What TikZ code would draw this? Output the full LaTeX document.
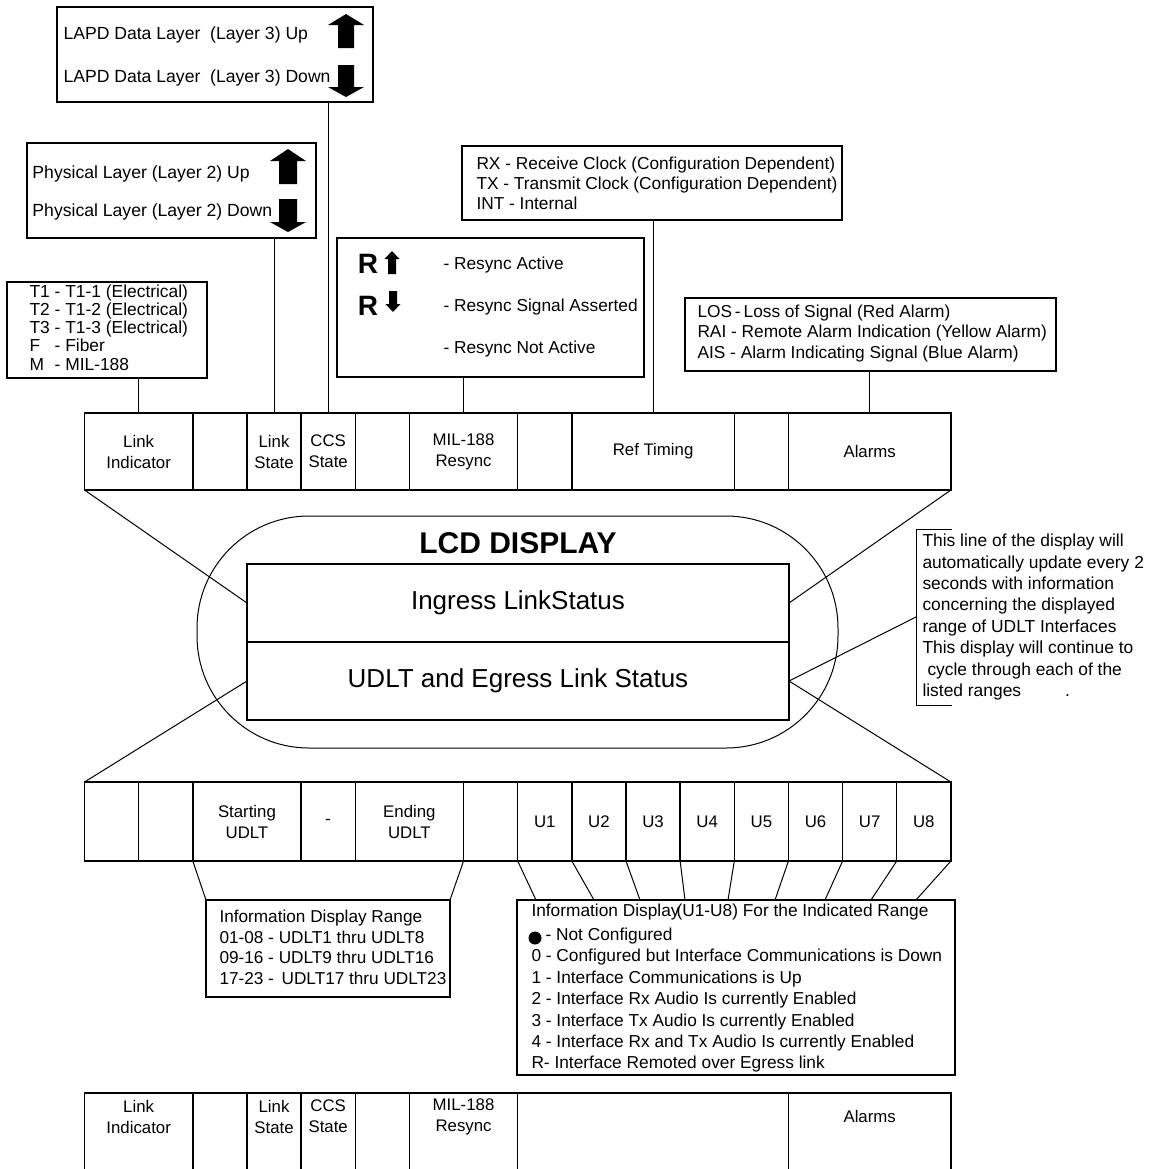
\documentclass[tikz,border=0pt]{standalone}
\usepackage{fontspec}
\setmainfont{Liberation Sans}

\begin{document}
\begin{tikzpicture}[x=0.5pt, y=-0.5pt, line width=0.5pt,
  box/.style={draw, line width=0.7pt, anchor=north west, inner sep=0pt, outer sep=0pt},
  txt/.style={anchor=west, inner sep=0pt, align=left, font=\fontsize{8.65}{10.3}\selectfont},
  cell/.style={draw, line width=0.7pt, anchor=north west, inner sep=0pt, outer sep=0pt,
    minimum width=#1*27.075pt, minimum height=38.5pt, align=center,
    font=\fontsize{8.4}{10.5}\selectfont},
  celltxt/.style={inner sep=0pt, align=center, font=\fontsize{8.4}{10.5}\selectfont},
  rlet/.style={inner sep=0pt, font=\bfseries\fontsize{14}{14}\selectfont}]

  % page 1151 x 1169 px, origin top left, y runs down
  \useasboundingbox (0,0) rectangle (1151,1169);
  \clip (0,0) rectangle (1151,1169);

  % --- legend boxes above the top row ---
  \node[box, minimum width=158pt, minimum height=47.5pt] (lapd) at (57,7) {};
  \node[txt, font=\fontsize{8.8}{21.5}\selectfont] (lapd-txt) at (63,56.5)
    {LAPD Data Layer\ \ (Layer 3) Up\\LAPD Data Layer\ \ (Layer 3) Down};

  \node[box, minimum width=144.5pt, minimum height=47.5pt] (phys) at (27,143) {};
  \node[txt, font=\fontsize{8.8}{19}\selectfont] (phys-txt) at (32,193)
    {Physical Layer (Layer 2) Up\\Physical Layer (Layer 2) Down};

  \node[box, minimum width=100pt, minimum height=48pt] (lnk) at (7,282) {};
  \node[txt, font=\fontsize{8.7}{9.1}\selectfont] (lnk-txt) at (29,330)
    {\begin{tabular}{@{}l@{\ }l@{}}
      T1 & - T1-1 (Electrical)\\
      T2 & - T1-2 (Electrical)\\
      T3 & - T1-3 (Electrical)\\
      F  & - Fiber\\
      M  & - MIL-188
    \end{tabular}};

  \node[box, minimum width=153.5pt, minimum height=69.5pt] (rsy) at (337,238) {};
  \node[rlet] (r-up) at (368,264) {R};
  \node[rlet] (r-dn) at (368,306) {R};
  \node[txt, font=\fontsize{8.65}{21}\selectfont] (rsy-txt) at (443,307)
    {- Resync Active\\- Resync Signal Asserted\\- Resync Not Active};

  \node[box, minimum width=190pt, minimum height=37pt] (clk) at (462,146) {};
  \node[txt, font=\fontsize{8.65}{10}\selectfont] (clk-txt) at (476,183)
    {RX - Receive Clock (Configuration Dependent)\\
     TX - Transmit Clock (Configuration Dependent)\\
     INT - Internal};

  \node[box, minimum width=185.5pt, minimum height=36.5pt] (alm) at (685,298) {};
  \node[txt] (alm-txt) at (697,333.5)
    {LOS\,-\,Loss of Signal (Red Alarm)\\
     RAI - Remote Alarm Indication (Yellow Alarm)\\
     AIS - Alarm Indicating Signal (Blue Alarm)};

  % block arrows: tip, head half width, shaft half width, head height, length
  \foreach \cx/\ty/\hw/\sw/\hh/\len in {346/14/18/8/11/34, 288/149/18/9/12/35, 392/251/7.5/4/8/23}
    \fill (\cx,\ty) -- ++(\hw,\hh) -- ++(\sw-\hw,0) -- ++(0,\len-\hh) -- ++(-2*\sw,0)
      -- ++(0,\hh-\len) -- ++(\sw-\hw,0) -- cycle;
  \foreach \cx/\by/\hw/\sw/\hh/\len in {346/97/18/8/10/32, 288/232/18/9/10/33, 393/312/7.5/4/8/21}
    \fill (\cx,\by) -- ++(\hw,-\hh) -- ++(\sw-\hw,0) -- ++(0,\hh-\len) -- ++(-2*\sw,0)
      -- ++(0,\len-\hh) -- ++(\sw-\hw,0) -- cycle;

  % --- top row: 16 units of 54.15 px from x=84.5 ---
  \foreach \s/\w/\n/\t in {0/2/li/{Link\\Indicator}, 2/1/e1/{}, 3/1/ls/{Link\\State},
      4/1/cs/{CCS\\State}, 5/1/e2/{}, 6/2/mr/{MIL-188\\Resync}, 8/1/e3/{},
      9/3/rt/{Ref Timing}, 12/1/e4/{}, 13/3/al/{Alarms}}
    \node[cell=\w] (top-\n) at ({84.5+\s*54.15},413) {\t};

  \draw (top-li.north) -- (top-li.north |- lnk.south);
  \draw (top-ls.north) -- (top-ls.north |- phys.south);
  \draw (top-cs.north) -- (top-cs.north |- lapd.south);
  \draw (top-mr.north) -- (top-mr.north |- rsy.south);
  \draw (top-rt.north) -- (top-rt.north |- clk.south);
  \draw (top-al.north) -- (top-al.north |- alm.south);

  % --- LCD display ---
  \node[draw, rounded corners=56pt, minimum width=320.5pt, minimum height=116pt,
    inner sep=0pt] (lcd) at (517.5,632) {};
  \node[font=\bfseries\fontsize{15}{15}\selectfont, inner sep=0pt] (lcd-title) at (518,543) {LCD DISPLAY};
  \node[box, minimum width=271pt, minimum height=39pt, font=\fontsize{13}{13}\selectfont]
    (ingress) at (247,564) {Ingress LinkStatus};
  \node[box, minimum width=271pt, minimum height=39pt, font=\fontsize{13}{13}\selectfont]
    (udlt) at (247,642) {UDLT and Egress Link Status};

  % side note, open bracket on its left
  \node[txt, anchor=north west, minimum height=87.5pt, inner xsep=3pt,
    font=\fontsize{8.7}{10.7}\selectfont] (note) at (916,529)
    {This line of the display will\\
     automatically update every 2\\
     seconds with information\\
     concerning the displayed\\
     range of UDLT Interfaces\\
     This display will continue to\\
     \hspace*{2.5pt}cycle through each of the\\
     listed ranges\hspace{22pt}.};
  \draw ([xshift=18pt]note.north west) -- (note.north west) -- (note.south west)
    -- ([xshift=18pt]note.south west);

  % --- middle row ---
  \foreach \s/\w/\n/\t in {0/1/a/{}, 1/1/b/{}, 2/2/st/{Starting\\UDLT}, 4/1/dash/{-},
      5/2/en/{Ending\\UDLT}, 7/1/c/{}}
    \node[cell=\w, minimum height=39.5pt] (mid-\n) at ({84.5+\s*54.15},782) {\t};
  \foreach \i in {1,...,8}
    \node[cell=1, minimum height=39.5pt] (mid-u\i) at ({84.5+(7+\i)*54.15},782) {U\i};

  \draw (top-li.south west) -- (ingress.west);
  \draw (top-al.south east) -- (ingress.east);
  \draw (udlt.west) -- (mid-a.north west);
  \draw (udlt.east) -- (mid-u8.north east);
  \draw (udlt.east) -- (note.west);

  % --- range and value legends ---
  \node[box, minimum width=122pt, minimum height=48.5pt] (range) at (206,900) {};
  \node[txt, font=\fontsize{8.6}{10.3}\selectfont] (range-txt) at (219,947.5)
    {Information Display Range\\
     01-08 - UDLT1 thru UDLT8\\
     09-16 - UDLT9 thru UDLT16\\
     17-23 -\ \,UDLT17 thru UDLT23};
  \draw (mid-st.south west) -- (range.north west);
  \draw (mid-en.south east) -- (range.north east);

  \node[box, minimum width=219pt, minimum height=87.5pt] (info) at (517,900) {};
  \node[txt, font=\fontsize{8.65}{10.7}\selectfont] (info-txt) at (531,988)
    {Information Display\kern-1.5pt(U1-U8) For the Indicated Range\\[1.5pt]
     \hspace*{7pt}- Not Configured\\
     0 - Configured but Interface Communications is Down\\
     1 - Interface Communications is Up\\
     2 - Interface Rx Audio Is currently Enabled\\
     3 - Interface Tx Audio Is currently Enabled\\
     4 - Interface Rx and Tx Audio Is currently Enabled\\
     R- Interface Remoted over Egress link};
  \fill (535,938) circle (6.5);
  \foreach \i/\dx in {1/19, 2/77, 3/123, 4/168, 5/211, 6/258, 7/308, 8/354}
    \draw (mid-u\i.south west) -- ([xshift=\dx*0.5pt]info.north west);
  \draw (mid-u8.south east) -- ([xshift=199.5pt]info.north west);

  % --- bottom row, runs off the page ---
  \foreach \s/\w/\n/\t in {0/2/li/{Link\\Indicator}, 2/1/e1/{}, 3/1/ls/{Link\\State},
      4/1/cs/{CCS\\State}, 5/1/e2/{}, 6/2/mr/{MIL-188\\Resync}, 8/5/e3/{}, 13/3/al/{Alarms}}
  {
    \node[cell=\w, minimum height=41pt] (bot-\n) at ({84.5+\s*54.15},1093) {};
    \node[celltxt] (bot-\n-lbl) at ([yshift=-11.75pt]bot-\n.north) {\t};
  }
\end{tikzpicture}
\end{document}
